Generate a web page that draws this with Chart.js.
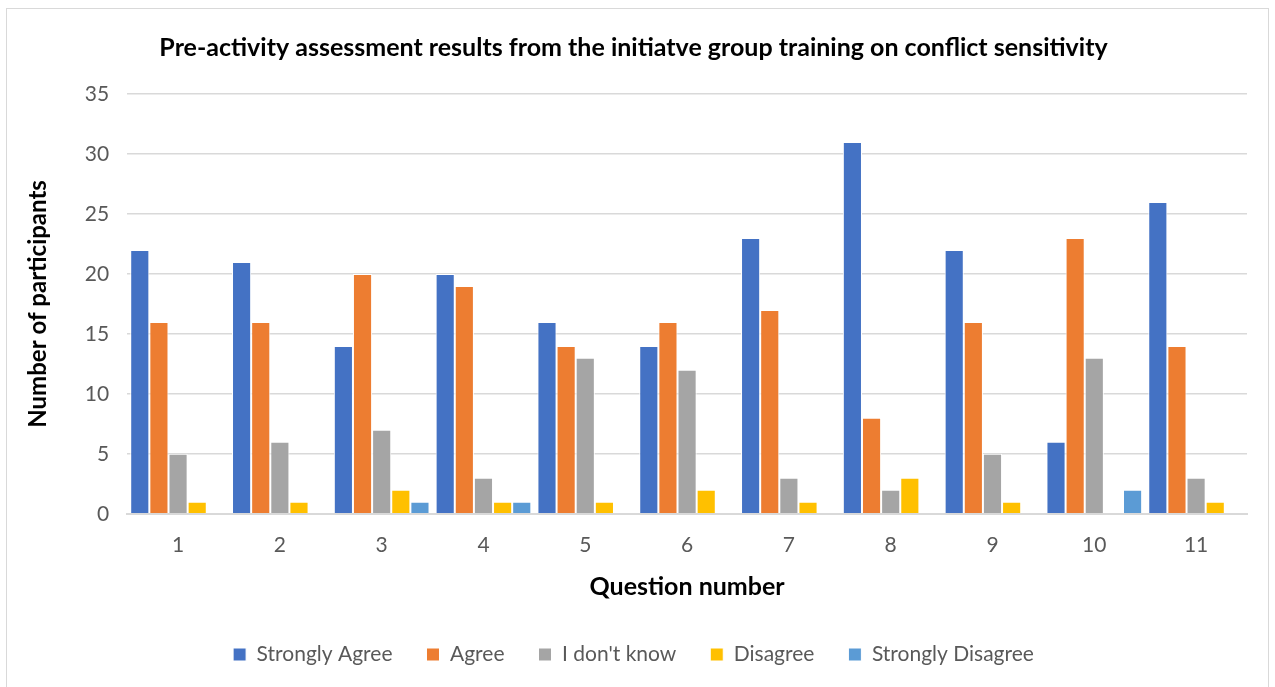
<!DOCTYPE html>
<html>
<head>
<meta charset="utf-8">
<script src="https://cdn.jsdelivr.net/npm/chart.js@4.4.1/dist/chart.umd.min.js"></script>
<style>
  html, body { margin: 0; padding: 0; background: #fff; }
  #wrap { width: 1275px; height: 687px; position: relative; }
</style>
</head>
<body>
<div id="wrap"><canvas id="c" width="1275" height="687"></canvas></div>
<script>
// question numbers on the x axis
const questions = ['1', '2', '3', '4', '5', '6', '7', '8', '9', '10', '11'];

// answers per question (null = no bar drawn)
const stronglyAgree    = [22, 21, 14, 20, 16, 14, 23, 31, 22, 6, 26];
const agree            = [16, 16, 20, 19, 14, 16, 17, 8, 16, 23, 14];
const dontKnow         = [5, 6, 7, 3, 13, 12, 3, 2, 5, 13, 3];
const disagree         = [1, 1, 2, 1, 1, 2, 1, 3, 1, null, 1];
const stronglyDisagree = [null, null, 1, 1, null, null, null, null, null, 2, null];

const seriesNames  = ['Strongly Agree', 'Agree', "I don't know", 'Disagree', 'Strongly Disagree'];
const seriesColors = ['#4472C4', '#ED7D31', '#A5A5A5', '#FFC000', '#5B9BD5'];
const seriesData   = [stronglyAgree, agree, dontKnow, disagree, stronglyDisagree];

const FONT = 'Lato, "Open Sans", sans-serif';

// thin grey frame round the whole chart
const frame = {
    id: 'frame',
    beforeDraw(chart) {
        const ctx = chart.ctx;
        ctx.save();
        ctx.fillStyle = '#fff';
        ctx.fillRect(0, 0, chart.width, chart.height);
        ctx.strokeStyle = '#d9d9d9';
        ctx.lineWidth = 1;
        ctx.strokeRect(6.5, 8.5, chart.width - 13, chart.height - 8);
        ctx.restore();
    }
};

new Chart(document.getElementById('c'), {
    type: 'bar',
    data: {
        labels: questions,
        datasets: seriesData.map((d, i) => ({
            label: seriesNames[i],
            data: d,
            backgroundColor: seriesColors[i],
            borderColor: '#ffffff',
            borderWidth: 1,
            barPercentage: 1.0,
            categoryPercentage: 0.94
        }))
    },
    options: {
        responsive: false,
        animation: false,
        layout: { padding: { left: 20, right: 28, top: 29, bottom: 12 } },
        plugins: {
            title: {
                display: true,
                text: 'Pre-activity assessment results from the initiatve group training on conflict sensitivity',
                color: '#000',
                font: { family: FONT, size: 25, weight: 'bold' },
                padding: { top: 4, bottom: 31 }
            },
            legend: {
                position: 'bottom',
                labels: {
                    color: '#595959',
                    font: { family: FONT, size: 21 },
                    boxWidth: 13,
                    boxHeight: 13,
                    padding: 34
                }
            },
            tooltip: { enabled: false }
        },
        scales: {
            x: {
                grid: { display: false },
                border: { color: '#d9d9d9', width: 2 },
                ticks: { color: '#595959', font: { family: FONT, size: 21 }, padding: 11 },
                title: {
                    display: true,
                    text: 'Question number',
                    color: '#000',
                    font: { family: FONT, size: 25, weight: 'bold' },
                    padding: { top: 3, bottom: 8 }
                }
            },
            y: {
                min: 0,
                max: 35,
                ticks: { stepSize: 5, color: '#595959', font: { family: FONT, size: 21 }, padding: 18 },
                grid: { color: '#d9d9d9', lineWidth: 1.5, drawTicks: false },
                border: { display: false },
                title: {
                    display: true,
                    text: 'Number of participants',
                    color: '#000',
                    font: { family: FONT, size: 24, weight: 'bold' },
                    padding: { bottom: 14 }
                }
            }
        }
    },
    plugins: [frame]
});
</script>
</body>
</html>
